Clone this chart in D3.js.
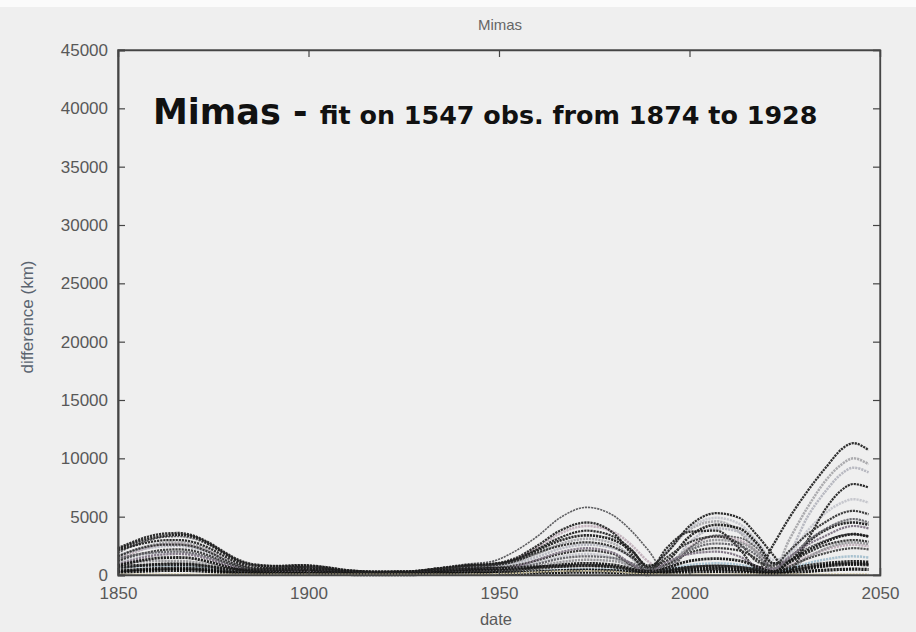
<!DOCTYPE html>
<html>
<head>
<meta charset="utf-8">
<script src="https://cdn.jsdelivr.net/npm/d3@7"></script>
<style>
  html, body { margin: 0; padding: 0; background: #efefef; }
  svg { display: block; }
  .tick text { font-family: "Liberation Sans", Arial, sans-serif; font-size: 17px; fill: #585858; }
</style>
</head>
<body>
<svg id="chart" width="916" height="632"></svg>
<script>
// Sampling dates (years) shared by every solution curve
const years = [1850,1854,1858,1862,1866,1870,1874,1878,1882,1886,1892,1898,1904,1910,1918,1926,1934,1942,1948,1954,1960,1966,1973,1980,1985,1989,1994,2000,2007,2013,2018,2022,2026,2031,2036,2040,2043,2047];

// Position differences (km) of each fitted solution against the reference orbit
const sol01 = [2300,2850,3300,3550,3600,3350,2750,1950,1250,900,780,850,700,420,290,310,560,850,950,1400,2500,3800,4500,3600,1700,250,2300,3700,3800,2300,500,2600,4800,7200,9300,10800,11300,10700];
const sol02 = [1900,2500,2950,3250,3300,3100,2550,1800,1100,750,700,760,620,380,260,290,600,950,1150,2000,3300,4900,5800,5100,3700,2200,300,2300,3400,3200,2200,600,1200,2300,3000,3400,3500,3300];
const sol03 = [2100,2500,2800,2980,3000,2800,2300,1600,950,600,600,680,560,330,220,260,500,800,900,1300,2200,3200,3800,3300,2100,700,1900,4200,5300,4900,3300,1700,300,3000,5800,7300,7800,7500];
const sol04 = [1500,2100,2500,2750,2800,2600,2100,1450,850,500,520,600,500,300,200,240,450,700,800,1100,1800,2650,3100,2700,1400,150,1900,3900,4600,3700,1800,300,2900,5800,8200,9500,10000,9500];
const sol05 = [1700,2050,2300,2470,2500,2300,1850,1250,750,450,450,520,430,260,170,200,380,620,700,950,1550,2250,2600,2300,1500,600,500,2800,4000,3700,2400,1000,1800,5000,7300,8700,9200,8800];
const sol06 = [1200,1650,1950,2150,2200,2050,1650,1100,650,380,400,450,370,220,150,180,330,540,600,800,1250,1800,2100,1800,800,400,1500,2800,3300,2700,1100,800,2000,3500,4600,5300,5500,5200];
const sol07 = [1400,1700,1880,1980,2000,1850,1500,1000,600,350,350,400,330,200,130,160,300,480,520,650,950,1400,1600,1450,1000,500,700,2100,2700,2500,1600,500,1400,2900,4000,4600,4800,4500];
const sol08 = [900,1300,1600,1760,1800,1680,1350,900,520,300,300,350,290,180,120,140,270,430,470,700,1300,1950,2300,1900,900,200,1100,1800,2000,1600,700,500,1500,2600,3400,4000,4200,4000];
const sol09 = [800,1100,1350,1480,1500,1400,1120,750,430,260,260,300,250,150,100,120,230,370,400,450,650,870,1000,870,520,160,600,1200,1400,1230,700,250,1100,2100,2900,3350,3500,3300];
const sol10 = [1000,1120,1180,1200,1200,1100,900,600,350,200,200,240,200,120,80,100,190,300,330,400,750,1100,1300,1200,800,500,900,2300,3000,2800,1900,900,600,1500,2300,2700,2800,2650];
const sol11 = [500,720,880,980,1000,930,750,500,290,170,170,200,160,100,70,80,150,250,270,330,500,700,800,700,420,130,350,680,800,700,400,130,700,1400,1900,2200,2300,2200];
const sol12 = [600,700,770,800,800,740,600,400,230,140,140,160,130,80,50,60,120,190,200,220,320,440,500,440,260,80,430,850,1000,880,500,160,500,1000,1350,1550,1600,1500];
const sol13 = [300,430,530,590,600,560,450,300,180,110,110,130,100,60,40,50,100,160,170,180,260,350,400,350,210,60,220,430,500,440,250,80,300,560,760,870,900,850];
const sol14 = [200,290,350,390,400,370,300,200,120,80,80,90,70,45,30,35,70,110,120,120,170,220,250,220,130,40,130,260,300,260,150,50,170,310,420,480,500,470];
const sol15 = [1300,1900,2350,2650,2700,2500,2050,1400,820,480,480,560,470,280,190,220,420,680,780,1300,2350,3550,4200,3700,2500,1200,400,2400,3300,3000,1900,600,800,1600,2200,2500,2600,2450];
const sol16 = [1100,1500,1750,1880,1900,1770,1420,950,560,330,330,380,310,190,120,150,280,450,500,650,1050,1550,1800,1500,700,600,2000,4000,4900,4400,2800,1300,1700,3800,5400,6200,6500,6200];
const sol17 = [2200,2700,3100,3350,3450,3250,2650,1850,1150,820,740,800,660,400,280,300,540,820,920,1250,2100,2950,3400,3000,2000,800,1200,3300,4300,4000,2600,1000,1200,2800,3900,4400,4500,4300];
const sol18 = [350,420,480,520,530,500,420,300,190,120,120,140,110,70,45,55,110,170,190,200,280,380,430,380,230,70,250,480,560,490,280,90,330,620,830,950,980,930];
const sol19 = [1600,2100,2450,2600,2600,2420,1950,1300,780,520,560,640,520,310,200,230,430,700,800,1150,1900,2500,2800,2400,1500,600,900,1900,2300,2100,1300,300,1000,1900,2600,2900,3000,2850];
const sol20 = [700,800,850,900,900,850,700,550,450,400,450,500,420,300,220,230,350,500,550,600,700,750,800,700,450,300,450,650,750,650,450,300,500,800,1000,1100,1150,1100];
const sol21 = [60,70,80,80,80,70,60,60,60,60,60,60,60,60,60,60,60,70,90,150,250,330,350,300,150,80,70,70,80,80,70,60,70,80,90,90,90,90];

// Draw order, stroke colour and width of each solution
const solutions = [sol15, sol04, sol05, sol16, sol10, sol12, sol02, sol03, sol01, sol17, sol19, sol06, sol07, sol08, sol09, sol11, sol20, sol13, sol18, sol14, sol21];
const strokes  = ["#bfaeb8", "#a6a6aa", "#b4b5be", "#c3c4ca", "#929296", "#a4bfcd", "#555558", "#222", "#252525", "#1c1c1c", "#2e2e2e", "#333", "#636368", "#7d7282", "#161616", "#444", "#191919", "#222", "#141414", "#0e0e0e", "#d6cba6"];
const widths   = [2.5, 2.5, 2.5, 2.5, 2.5, 2.5, 1.6, 2.2, 2.3, 2.6, 2.2, 2.2, 2.2, 2.2, 2.8, 2.2, 3.2, 2.8, 2.8, 3.2, 1.6];

// Axis ticks
const xTicks = [1850, 1900, 1950, 2000, 2050];
const yTicks = [0, 5000, 10000, 15000, 20000, 25000, 30000, 35000, 40000, 45000];

const svg = d3.select("#chart");
const margin = { left: 118, right: 36, top: 50, bottom: 57 };
const W = 916, H = 632;
const x = d3.scaleLinear().domain([1850, 2050]).range([margin.left, W - margin.right]);
const y = d3.scaleLinear().domain([0, 45000]).range([H - margin.bottom, margin.top]);

// background
svg.append("rect").attr("width", W).attr("height", H).attr("fill", "#efefef");
svg.append("rect").attr("width", W).attr("height", 7).attr("fill", "#fbfbfb");

// solution curves (dense dotted traces)
const line = d3.line()
  .x((d, i) => x(years[i]))
  .y(d => y(d))
  .curve(d3.curveMonotoneX);

const curves = svg.append("g");
solutions.forEach((s, k) => {
  curves.append("path")
    .datum(s)
    .attr("d", line)
    .attr("fill", "none")
    .attr("stroke", strokes[k])
    .attr("stroke-width", widths[k])
    .attr("stroke-dasharray", "2.2,0.9")
    .attr("stroke-opacity", 0.95);
});

// frame
svg.append("rect")
  .attr("x", x(1850)).attr("y", y(45000))
  .attr("width", x(2050) - x(1850)).attr("height", y(0) - y(45000))
  .attr("fill", "none").attr("stroke", "#454545").attr("stroke-width", 1.3);

// axes with inward ticks
const axisL = svg.append("g").attr("transform", `translate(${x(1850)},0)`)
  .call(d3.axisLeft(y).tickValues(yTicks).tickSize(-7).tickPadding(10).tickFormat(d3.format("d")));
const axisR = svg.append("g").attr("transform", `translate(${x(2050)},0)`)
  .call(d3.axisRight(y).tickValues(yTicks).tickSize(-7).tickFormat(""));
const axisB = svg.append("g").attr("transform", `translate(0,${y(0)})`)
  .call(d3.axisBottom(x).tickValues(xTicks).tickSize(-7).tickPadding(12).tickFormat(d3.format("d")));
const axisT = svg.append("g").attr("transform", `translate(0,${y(45000)})`)
  .call(d3.axisTop(x).tickValues(xTicks).tickSize(-7).tickFormat(""));

[axisL, axisR, axisB, axisT].forEach(g => {
  g.select(".domain").attr("stroke", "#454545").attr("stroke-width", 1.3);
  g.selectAll(".tick line").attr("stroke", "#454545").attr("stroke-width", 1.2);
});
axisL.select(".domain").attr("stroke-width", 2);

// titles
svg.append("text")
  .attr("x", 500).attr("y", 30)
  .attr("text-anchor", "middle")
  .attr("font-family", "Liberation Sans, Arial, sans-serif")
  .attr("font-size", 15).attr("fill", "#666")
  .text("Mimas");

svg.append("text")
  .attr("x", 496).attr("y", 625)
  .attr("text-anchor", "middle")
  .attr("font-family", "Liberation Sans, Arial, sans-serif")
  .attr("font-size", 16.5).attr("fill", "#5a5a5a")
  .text("date");

svg.append("text")
  .attr("transform", "translate(33,317) rotate(-90)")
  .attr("text-anchor", "middle")
  .attr("font-family", "Liberation Sans, Arial, sans-serif")
  .attr("font-size", 17).attr("fill", "#5a6470")
  .text("difference (km)");

// annotation
const note = svg.append("text")
  .attr("x", 153).attr("y", 124)
  .attr("font-family", "DejaVu Sans, Verdana, sans-serif")
  .attr("font-weight", "bold")
  .attr("fill", "#111");
note.append("tspan").attr("font-size", 35).text("Mimas - ");
note.append("tspan").attr("font-size", 25.4).text("fit on 1547 obs. from 1874 to 1928");
</script>
</body>
</html>
